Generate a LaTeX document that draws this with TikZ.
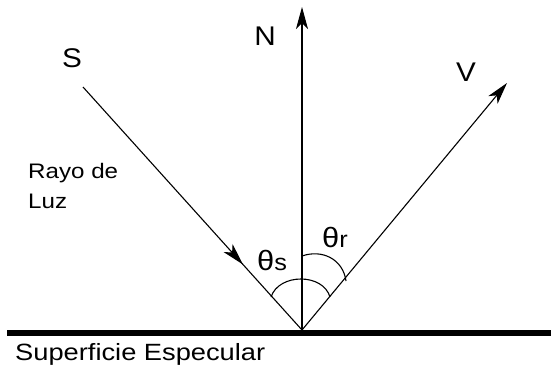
\documentclass[tikz,border=0pt]{standalone}
\usepackage{fontspec}
\setmainfont{Liberation Sans}
\usetikzlibrary{arrows.meta,decorations.markings}
\begin{document}
\begin{tikzpicture}[x=1pt,y=-1pt,
  ray/.style={line width=1.1pt},
  tipA/.style={-{Stealth[length=22pt,width=12pt,inset=6pt]}},
  big/.style={font=\fontsize{27}{27}\selectfont, inner sep=0pt, xscale=1.1},
  mid/.style={font=\fontsize{21}{30}\selectfont, inner sep=0pt, xscale=1.15},
  ang/.style={inner sep=0pt, xscale=1.1},
  midarrow/.style={postaction={decorate},decoration={markings,
     mark=at position 0.73 with {\arrow{Stealth[length=22pt,width=12pt,inset=6pt]}}}}]
\useasboundingbox (0,0) rectangle (551,370);
% points
\coordinate (O) at (302,330);
\coordinate (Ntip) at (302,7);
\coordinate (Vtip) at (507,83);
\coordinate (Sstart) at (83,87);
\coordinate (Sl) at (7,333);
\coordinate (Sr) at (551,333);
% surface
\draw[line width=6pt] (Sl) -- (Sr);
% rays
\draw[ray,midarrow] (Sstart) -- (O);
\draw[ray,tipA] (O) -- (Ntip);
\draw[ray,tipA] (O) -- (Vtip);
% angle arcs
\draw[ray] (271,297) .. controls (279,273) and (323,273) .. (330,297);
\draw[ray] (302,256) .. controls (322,249) and (343,259) .. (346,281);
% labels
\node[big,anchor=base] (lS) at (72,67) {S};
\node[big,anchor=base] (lN) at (265,45) {N};
\node[big,anchor=base] (lV) at (466,81) {V};
\node[mid,anchor=west,align=left] (lray) at (28,186) {Rayo de\\Luz};
\node[inner sep=0pt,anchor=base west,xscale=1.16,font=\fontsize{23.5}{23.5}\selectfont] (lsurf) at (15,360) {Superficie Especular};
\node[ang,anchor=base west] (ts) at (257,270) {\fontsize{28}{28}\selectfont θ\fontsize{23}{23}\selectfont s};
\node[ang,anchor=base west] (tr) at (322,247) {\fontsize{28}{28}\selectfont θ\fontsize{23}{23}\selectfont r};
\end{tikzpicture}
\end{document}
